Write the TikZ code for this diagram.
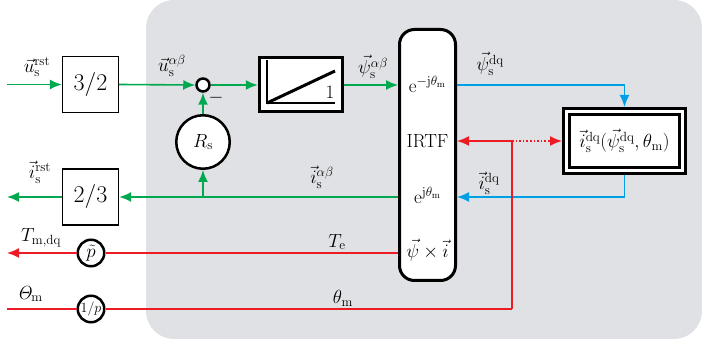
\documentclass[tikz,border=0pt]{standalone}
\usepackage{fix-cm}
\usepackage{amsmath}
\usetikzlibrary{arrows.meta}
\definecolor{cgreen}{RGB}{0,168,80}
\definecolor{cblue}{RGB}{0,160,230}
\definecolor{cred}{RGB}{237,28,36}
\definecolor{cgray}{RGB}{224,225,228}
\begin{document}
\begin{tikzpicture}[x=1pt,y=-1pt,
  every node/.style={font=\fontsize{19}{23}\selectfont, inner sep=0pt},
  arr/.style={-{Latex[length=12pt,width=10pt]}},
  gline/.style={cgreen, line width=1.6pt},
  bline/.style={cblue, line width=1.6pt},
  rline/.style={cred, line width=1.6pt},
  thinbox/.style={draw, line width=1.2pt, fill=white, minimum width=56pt, minimum height=56pt},
  circ/.style={circle, draw, line width=2.5pt, fill=white},
  thickbox/.style={draw, line width=3pt, fill=white}
]
\useasboundingbox (0,0) rectangle (702,339);
\fill[cgray, rounded corners=28pt] (146,0) rectangle (702,339);

% nodes
\node[thinbox, font=\fontsize{24}{28}\selectfont] (b32) at (90.5,84.5) {$3/2$};
\node[thinbox, font=\fontsize{24}{28}\selectfont] (b23) at (90.5,197) {$2/3$};
\node[circ, minimum size=13pt] (sum) at (203,85) {};
\node[circ, minimum size=53.5pt] (rs) at (203,142) {$R_\mathrm{s}$};
\node[thickbox, line width=3.5pt, minimum width=83pt, minimum height=54pt] (int) at (301,84.5) {};
\node[thickbox, rounded corners=15pt, minimum width=56pt, minimum height=251pt] (irtf) at (427.5,155) {};
\node (e1) at (427.5,84) {$\mathrm{e}^{-\mathrm{j}\theta_\mathrm{m}}$};
\node (irtft) at (427.5,141) {IRTF};
\node (e2) at (427.5,195) {$\mathrm{e}^{\mathrm{j}\theta_\mathrm{m}}$};
\node (cross) at (427.5,250) {$\vec{\psi}\times\vec{i}$};
\node[thickbox, minimum width=122pt, minimum height=65pt] (idq) at (624.5,141) {};
\node[draw, line width=3pt, minimum width=110pt, minimum height=53pt] (idqin) at (idq.center)
  {$\vec{i}_\mathrm{s}^\mathrm{dq}(\vec{\psi}_\mathrm{s}^\mathrm{dq},\theta_\mathrm{m})$};
\node[circ, minimum size=26.5pt] (pt) at (91,253) {$\tilde{p}$};
\node[circ, minimum size=26.5pt, font=\fontsize{14}{16}\selectfont] (p1) at (91,309) {$1/p$};

% integrator symbol
\draw[line width=1.5pt] (267,60) -- (267,103) -- (335,103);
\draw[line width=3pt] (267,103) -- (335,71);
\node at (330,92) {$1$};

% coordinates
\coordinate (inL) at (7,84.5);
\coordinate (outL) at (7,197);
\coordinate (teL) at (7,253);
\coordinate (thL) at (7,309);
\coordinate (br) at (203,197);
\coordinate (bk) at (624.5,197);
\coordinate (rj) at (512,141);
\coordinate (rb) at (512,309);
\coordinate (bt) at (624.5,85);

% green
\draw[gline,arr] (inL) -- (b32.west);
\draw[gline,arr] (b32.east) -- (sum.west);
\draw[gline,arr] (sum.east) -- (int.west |- sum);
\draw[gline,arr] (int.east |- sum) -- (irtf.west |- sum);
\draw[gline,arr] (irtf.west |- br) -- (b23.east);
\draw[gline,arr] (b23.west) -- (outL);
\draw[gline,arr] (br) -- (rs.south);
\draw[gline,arr] (rs.north) -- (sum.south);

% blue
\draw[bline,arr] (irtf.east |- bt) -- (bt) -- (idq.north);
\draw[bline,arr] (idq.south) -- (bk) -- (irtf.east |- bk);

% red
\draw[rline,arr] (rb) -- (rj) -- (irtf.east |- rj);
\draw[rline,dotted,arr] (rj) -- (idq.west |- rj);
\draw[rline] (rb) -- (p1.east);
\draw[rline] (p1.west) -- (thL);
\draw[rline] (irtf.west |- pt) -- (pt.east);
\draw[rline,arr] (pt.west) -- (teL);

% labels
\node at (37,67) {$\vec{u}_\mathrm{s}^\mathrm{rst}$};
\node at (172,66) {$\vec{u}_\mathrm{s}^{\alpha\beta}$};
\node at (216,98) {$-$};
\node at (373,67) {$\vec{\psi}_\mathrm{s}^{\alpha\beta}$};
\node at (490,64) {$\vec{\psi}_\mathrm{s}^\mathrm{dq}$};
\node at (489,183) {$\vec{i}_\mathrm{s}^\mathrm{dq}$};
\node at (322,177) {$\vec{i}_\mathrm{s}^{\alpha\beta}$};
\node at (40,172) {$\vec{i}_\mathrm{s}^\mathrm{rst}$};
\node at (41,238) {$T_\mathrm{m,dq}$};
\node at (30,294) {$\mathit{\Theta}_\mathrm{m}$};
\node at (337,242) {$T_\mathrm{e}$};
\node at (343,298) {$\theta_\mathrm{m}$};
\end{tikzpicture}
\end{document}
